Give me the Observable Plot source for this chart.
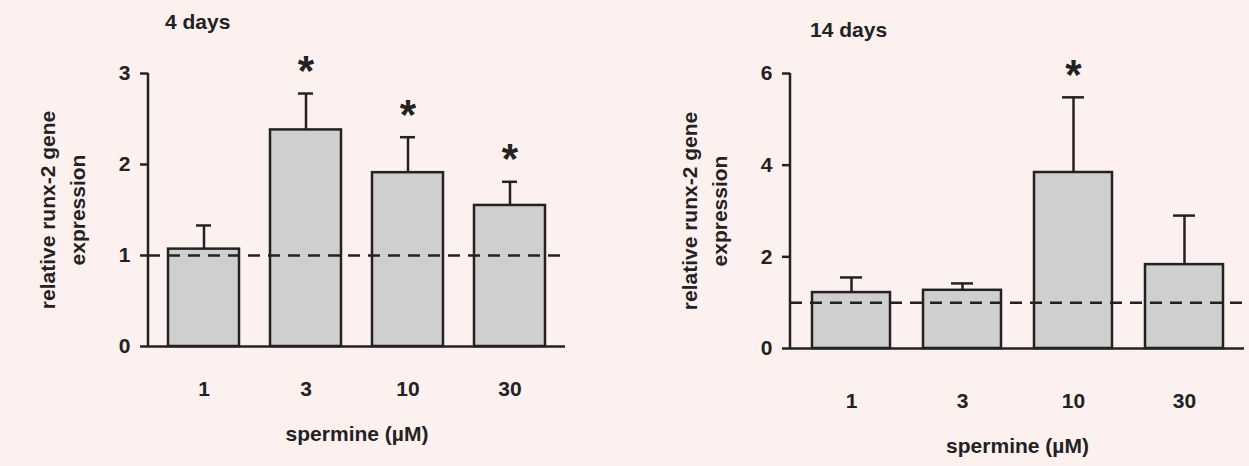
<!DOCTYPE html>
<html><head><meta charset="utf-8">
<script src="https://cdn.jsdelivr.net/npm/d3@7"></script>
<script src="https://cdn.jsdelivr.net/npm/@observablehq/plot@0.6"></script>
<style>
body{margin:0;background:#fdf1ef;}
#wrap{position:relative;width:1249px;height:466px;background:#fdf1ef;font-family:"Liberation Sans",Arial,sans-serif;}
.p{position:absolute;top:0;}
.ttl{position:absolute;font-weight:bold;font-size:21px;color:#222;}
</style></head>
<body><div id="wrap">
<div class="ttl" style="left:165px;top:10px">4 days</div>
<div class="ttl" style="left:810px;top:18px">14 days</div>
<div id="a" class="p" style="left:0"></div>
<div id="b" class="p" style="left:600px"></div>
</div>
<script>
const doses = ["1", "3", "10", "30"]
// 4 days
const mean4 = [1.07, 2.38, 1.91, 1.55]
const err4 = [1.33, 2.78, 2.30, 1.81]
const star4 = [false, true, true, true]
// 14 days
const mean14 = [1.22, 1.27, 3.84, 1.83]
const err14 = [1.55, 1.42, 5.48, 2.90]
const star14 = [false, false, true, false]

function panel(mean, err, star, yMax, yTicks, opts) {
  const data = doses.map((d, i) => ({dose: d, v: mean[i], e: err[i], s: star[i]}))
  const st = {fontFamily: "Liberation Sans, Arial, sans-serif", fontSize: "21px", fontWeight: "bold", background: "transparent", color: "#222"}
  return Plot.plot({
    width: opts.width, height: opts.height,
    marginLeft: opts.ml, marginRight: opts.mr, marginTop: 73, marginBottom: opts.height - opts.base,
    style: st,
    x: {domain: doses, paddingInner: 0.3, paddingOuter: 0.18, label: null},
    y: {domain: [0, yMax], ticks: yTicks, label: null},
    marks: [
      Plot.ruleX(data, {x: "dose", y1: "v", y2: "e", stroke: "#222", strokeWidth: 2.5}),
      Plot.tickY(data, {x: "dose", y: "e", stroke: "#222", strokeWidth: 2.5, insetLeft: opts.cap, insetRight: opts.cap}),
      Plot.barY(data, {x: "dose", y: "v", fill: "#cfcfcf", stroke: "#222", strokeWidth: 2.5}),
      Plot.ruleY([1], {stroke: "#222", strokeWidth: 2.5, strokeDasharray: "12,8"}),
      Plot.ruleY([0], {stroke: "#222", strokeWidth: 2.5}),
      Plot.axisY({ticks: yTicks, tickSize: 8, tickPadding: 10, tickFormat: d3.format("d"), fontSize: 21, strokeWidth: 2.5, fill: "#222", label: null}),
      Plot.axisX({tickSize: 0, tickPadding: opts.tp, fontSize: 21, label: null}),
      Plot.text(data.filter(d => d.s), {x: "dose", y: "e", text: () => "*", dy: -22, fontSize: 42, fontWeight: "bold"}),
      Plot.text(["relative runx-2 gene\nexpression"], {frameAnchor: "left", textAnchor: "middle", dx: opts.ldx, rotate: -90, fontSize: 21, fontWeight: "bold", lineHeight: 1.45}),
      Plot.text(["spermine (µM)"], {frameAnchor: "bottom", dy: opts.xl, fontSize: 21, fontWeight: "bold"}),
      () => d3.create("svg:line").attr("x1", opts.ml).attr("x2", opts.ml)
          .attr("y1", 73).attr("y2", opts.base).attr("stroke", "#222").attr("stroke-width", 2.5).node()
    ]
  })
}
d3.select("#a").append(() => panel(mean4, err4, star4, 3, [0, 1, 2, 3],
  {width: 575, height: 466, ml: 148, mr: 10, base: 346, cap: 28, tp: 35, ldx: -88, xl: 94}))
d3.select("#b").append(() => panel(mean14, err14, star14, 6, [0, 2, 4, 6],
  {width: 649, height: 466, ml: 190, mr: 5, base: 348, cap: 28, tp: 45, ldx: -88, xl: 104}))
</script></body></html>
